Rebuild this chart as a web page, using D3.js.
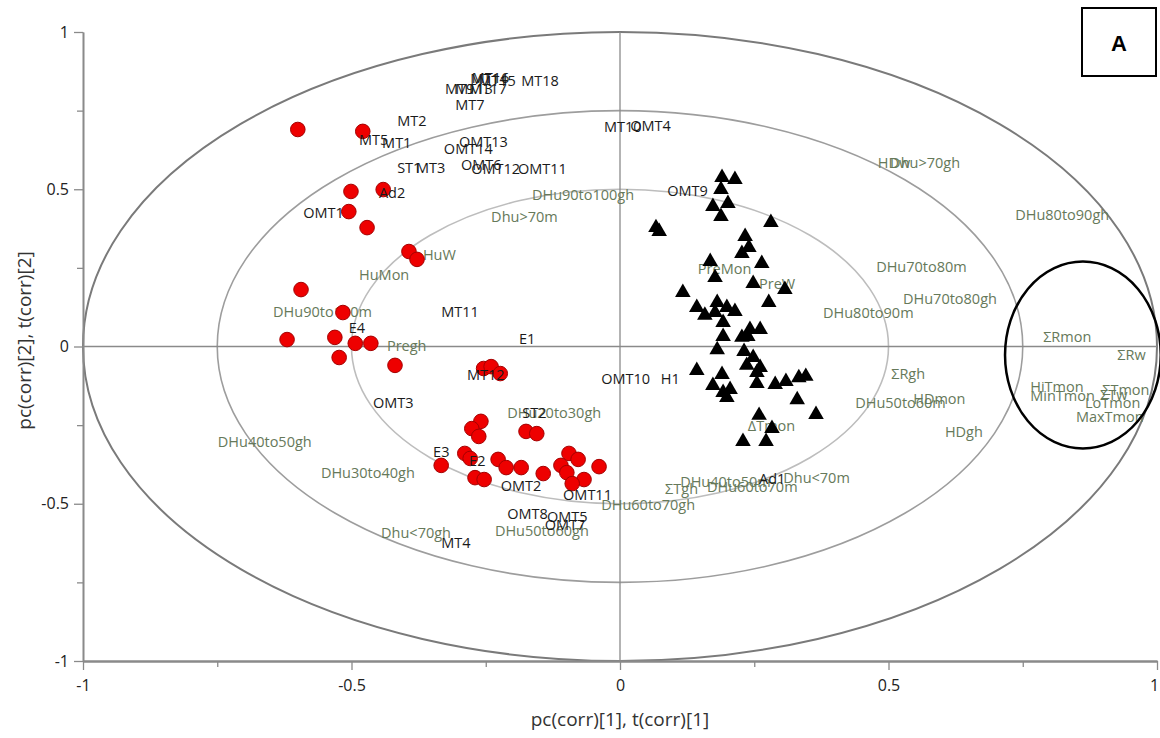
<!DOCTYPE html>
<html><head><meta charset="utf-8">
<script src="https://cdn.jsdelivr.net/npm/d3@7"></script>
<style>html,body{margin:0;padding:0;background:#fff;}svg{display:block;}</style>
</head><body>
<svg id="c" width="1160" height="738"></svg>
<script>
// ---------- data ----------
const xTicks = [-1, -0.5, 0, 0.5, 1];
const yTicks = [-1, -0.5, 0, 0.5, 1];
const minorTicks = [-0.75, -0.25, 0.25, 0.75];
const circleRadii = [1, 0.75, 0.5];
const xTitle = "pc(corr)[1], t(corr)[1]";
const yTitle = "pc(corr)[2], t(corr)[2]";
const panelLabel = "A";

// group 1 observations (red circles) [x, y]
const redPoints = [
  [-0.600,0.690],[-0.479,0.684],[-0.501,0.493],[-0.441,0.499],[-0.505,0.429],
  [-0.471,0.378],[-0.393,0.302],[-0.378,0.277],[-0.594,0.181],[-0.516,0.108],
  [-0.620,0.022],[-0.531,0.029],[-0.493,0.010],[-0.464,0.010],[-0.523,-0.035],
  [-0.419,-0.060],[-0.254,-0.070],[-0.240,-0.064],[-0.223,-0.086],
  [-0.259,-0.238],[-0.276,-0.261],[-0.263,-0.286],[-0.175,-0.270],[-0.155,-0.277],
  [-0.333,-0.378],[-0.289,-0.340],[-0.279,-0.356],[-0.227,-0.359],[-0.212,-0.385],
  [-0.184,-0.385],[-0.143,-0.404],[-0.270,-0.417],[-0.253,-0.423],[-0.095,-0.340],
  [-0.078,-0.359],[-0.110,-0.378],[-0.099,-0.401],[-0.067,-0.423],[-0.089,-0.436],
  [-0.039,-0.382]
];
// group 2 observations (black triangles) [x, y]
const blackPoints = [
  [0.190,0.537],[0.214,0.531],[0.188,0.499],[0.173,0.445],[0.201,0.455],
  [0.188,0.413],[0.281,0.394],[0.067,0.378],[0.073,0.366],[0.233,0.350],
  [0.240,0.315],[0.227,0.296],[0.168,0.270],[0.264,0.264],[0.177,0.219],
  [0.248,0.200],[0.307,0.181],[0.117,0.172],[0.143,0.124],[0.181,0.140],
  [0.199,0.124],[0.214,0.111],[0.158,0.099],[0.177,0.108],[0.277,0.140],
  [0.192,0.076],[0.242,0.054],[0.261,0.054],[0.227,0.029],[0.192,0.032],
  [0.238,0.032],[0.181,-0.010],[0.231,-0.016],[0.248,-0.035],[0.236,-0.060],
  [0.261,-0.067],[0.255,-0.083],[0.143,-0.076],[0.190,-0.089],[0.173,-0.124],
  [0.205,-0.137],[0.192,-0.146],[0.199,-0.162],[0.255,-0.118],[0.289,-0.121],
  [0.309,-0.111],[0.333,-0.099],[0.346,-0.095],[0.330,-0.169],[0.365,-0.216],
  [0.259,-0.219],[0.283,-0.261],[0.229,-0.302],[0.272,-0.302]
];
// observation-variable labels (black) [name, x, y]
const blackLabels = [
  ["MT16",-0.276,0.855],["MT14",-0.279,0.852],["MT15",-0.264,0.846],["MT18",-0.184,0.846],
  ["MT9",-0.326,0.820],["MT13",-0.307,0.820],["MT17",-0.281,0.820],["MT7",-0.307,0.769],
  ["MT2",-0.415,0.719],["MT5",-0.486,0.658],["MT1",-0.443,0.649],["MT10",-0.030,0.700],
  ["OMT4",0.019,0.703],["OMT13",-0.300,0.652],["OMT14",-0.328,0.630],["ST1",-0.415,0.569],
  ["MT3",-0.380,0.569],["OMT6",-0.296,0.579],["OMT12",-0.277,0.566],["OMT11",-0.190,0.566],
  ["Ad2",-0.449,0.490],["OMT1",-0.590,0.426],["OMT9",0.088,0.496],["MT11",-0.333,0.111],
  ["E4",-0.505,0.060],["E1",-0.188,0.025],["MT12",-0.285,-0.089],["OMT10",-0.035,-0.102],
  ["H1",0.076,-0.102],["OMT3",-0.460,-0.178],["ST2",-0.182,-0.210],["E3",-0.348,-0.334],
  ["E2",-0.281,-0.362],["OMT2",-0.222,-0.442],["OMT11",-0.106,-0.471],["OMT8",-0.210,-0.531],
  ["OMT5",-0.136,-0.541],["OMT7",-0.140,-0.566],["MT4",-0.333,-0.623],["Ad1",0.259,-0.420]
];
// climate-variable labels (green) [name, x, y]
const greenLabels = [
  ["DHu90to100gh",-0.164,0.483],["Dhu>70m",-0.240,0.413],["HuW",-0.367,0.293],
  ["HuMon",-0.486,0.229],["DHu90to100m",-0.646,0.111],["Pregh",-0.434,0.003],
  ["DHu20to30gh",-0.210,-0.210],["DHu40to50gh",-0.749,-0.302],["DHu30to40gh",-0.557,-0.401],
  ["Dhu<70gh",-0.445,-0.591],["DHu50to60gh",-0.233,-0.585],["DHu60to70gh",-0.035,-0.502],
  ["ΣTgh",0.084,-0.452],["DHu40to50m",0.112,-0.429],["DHu60to70m",0.162,-0.445],
  ["Dhu<70m",0.304,-0.417],["HDw",0.480,0.585],["Dhu>70gh",0.503,0.585],
  ["PreMon",0.145,0.248],["PreW",0.259,0.200],["DHu70to80m",0.477,0.254],
  ["DHu70to80gh",0.527,0.153],["DHu80to90m",0.378,0.108],["ΣRgh",0.505,-0.086],
  ["DHu50to60m",0.438,-0.178],["HDmon",0.546,-0.165],["HDgh",0.605,-0.270],
  ["ΔTmon",0.238,-0.251],["DHu80to90gh",0.736,0.420],["ΣRmon",0.788,0.032],
  ["ΣRw",0.926,-0.025],["HiTmon",0.764,-0.127],["MinTmon",0.764,-0.156],
  ["ΣTmon",0.898,-0.137],["ΣTw",0.894,-0.153],["LoTmon",0.866,-0.178],["MaxTmon",0.849,-0.223]
];
// highlighted region [cx, cy, rx, ry]
const highlight = [0.862, -0.027, 0.145, 0.297];

// ---------- drawing ----------
const svg = d3.select("#c");
const font = "'Open Sans', 'Noto Sans', sans-serif";
const x = d3.scaleLinear().domain([-1, 1]).range([83, 1157]);
const y = d3.scaleLinear().domain([-1, 1]).range([661, 32]);

// reference circles
const circStyle = [{c:"#7a7a7a", w:2}, {c:"#9d9d9d", w:1.6}, {c:"#bdbdbd", w:1.6}];
svg.append("g").selectAll("ellipse").data(circleRadii).join("ellipse")
  .attr("cx", x(0)).attr("cy", y(0))
  .attr("rx", r => x(r) - x(0)).attr("ry", r => y(0) - y(r))
  .attr("fill", "none")
  .attr("stroke", (r,i) => circStyle[i].c).attr("stroke-width", (r,i) => circStyle[i].w);

// zero lines
svg.append("line").attr("x1", x(-1)).attr("x2", x(1)).attr("y1", y(0)).attr("y2", y(0))
  .attr("stroke", "#8a8a8a").attr("stroke-width", 1.3);
svg.append("line").attr("x1", x(0)).attr("x2", x(0)).attr("y1", y(-1)).attr("y2", y(1))
  .attr("stroke", "#8a8a8a").attr("stroke-width", 1.3);

// axes
function styleAxis(g) {
  g.select(".domain").attr("stroke", "#8a8a8a").attr("stroke-width", 2);
  g.selectAll(".tick line").attr("stroke", "#8a8a8a").attr("stroke-width", 1.3);
  g.selectAll(".tick text").attr("fill", "#222").attr("font-family", font).attr("font-size", 16);
}
const fmt = d => String(d);
const gx = svg.append("g").attr("transform", `translate(0,${y(-1)})`)
  .call(d3.axisBottom(x).tickValues(xTicks).tickFormat(fmt).tickSize(9).tickPadding(10).tickSizeOuter(0));
styleAxis(gx);
gx.selectAll(".tick text").filter(d => d === 1).attr("dx", -3);
const gxm = svg.append("g").attr("transform", `translate(0,${y(-1)})`)
  .call(d3.axisBottom(x).tickValues(minorTicks).tickFormat("").tickSize(6).tickSizeOuter(0));
styleAxis(gxm);
const gy = svg.append("g").attr("transform", `translate(${x(-1)},0)`)
  .call(d3.axisLeft(y).tickValues(yTicks).tickFormat(fmt).tickSize(9).tickPadding(5).tickSizeOuter(0));
styleAxis(gy);
gy.select(".domain").attr("stroke-width", 1.6);
const gym = svg.append("g").attr("transform", `translate(${x(-1)},0)`)
  .call(d3.axisLeft(y).tickValues(minorTicks).tickFormat("").tickSize(6).tickSizeOuter(0));
styleAxis(gym);
gym.select(".domain").attr("stroke-width", 1.6);

// axis titles
svg.append("text").attr("x", x(0)).attr("y", 726).attr("text-anchor", "middle")
  .attr("font-family", font).attr("font-size", 19).attr("fill", "#333").text(xTitle);
svg.append("text").attr("transform", `translate(24,${y(0) - 6}) rotate(-90)`)
  .attr("text-anchor", "middle").attr("dominant-baseline", "central")
  .attr("font-family", font).attr("font-size", 19).attr("fill", "#333").text(yTitle);

// green labels
svg.append("g").selectAll("text").data(greenLabels).join("text")
  .attr("x", d => x(d[1])).attr("y", d => y(d[2]))
  .attr("dominant-baseline", "central")
  .attr("font-family", font).attr("font-size", 14.5).attr("fill", "#66795a")
  .text(d => d[0]);

// triangles
svg.append("g").selectAll("path").data(blackPoints).join("path")
  .attr("d", d3.symbol(d3.symbolTriangle, 105))
  .attr("transform", d => `translate(${x(d[0])},${y(d[1])})`)
  .attr("fill", "#000");

// red circles
svg.append("g").selectAll("circle").data(redPoints).join("circle")
  .attr("cx", d => x(d[0])).attr("cy", d => y(d[1])).attr("r", 7.3)
  .attr("fill", "#ee0000").attr("stroke", "#a40000").attr("stroke-width", 1);

// black labels
svg.append("g").selectAll("text").data(blackLabels).join("text")
  .attr("x", d => x(d[1])).attr("y", d => y(d[2]))
  .attr("dominant-baseline", "central")
  .attr("font-family", font).attr("font-size", 14.5).attr("fill", "#1a1a1a")
  .text(d => d[0]);

// highlight ellipse
svg.append("ellipse")
  .attr("cx", x(highlight[0])).attr("cy", y(highlight[1]))
  .attr("rx", x(highlight[2]) - x(0)).attr("ry", y(0) - y(highlight[3]))
  .attr("fill", "none").attr("stroke", "#000").attr("stroke-width", 2.5);

// panel label box
svg.append("rect").attr("x", 1082).attr("y", 8).attr("width", 74).attr("height", 68)
  .attr("fill", "#fff").attr("stroke", "#000").attr("stroke-width", 2);
svg.append("text").attr("x", 1119).attr("y", 43).attr("text-anchor", "middle")
  .attr("dominant-baseline", "central").attr("font-family", "'Liberation Sans', Arial, sans-serif")
  .attr("font-weight", "bold").attr("font-size", 22).attr("fill", "#000").text(panelLabel);
</script>
</body></html>
